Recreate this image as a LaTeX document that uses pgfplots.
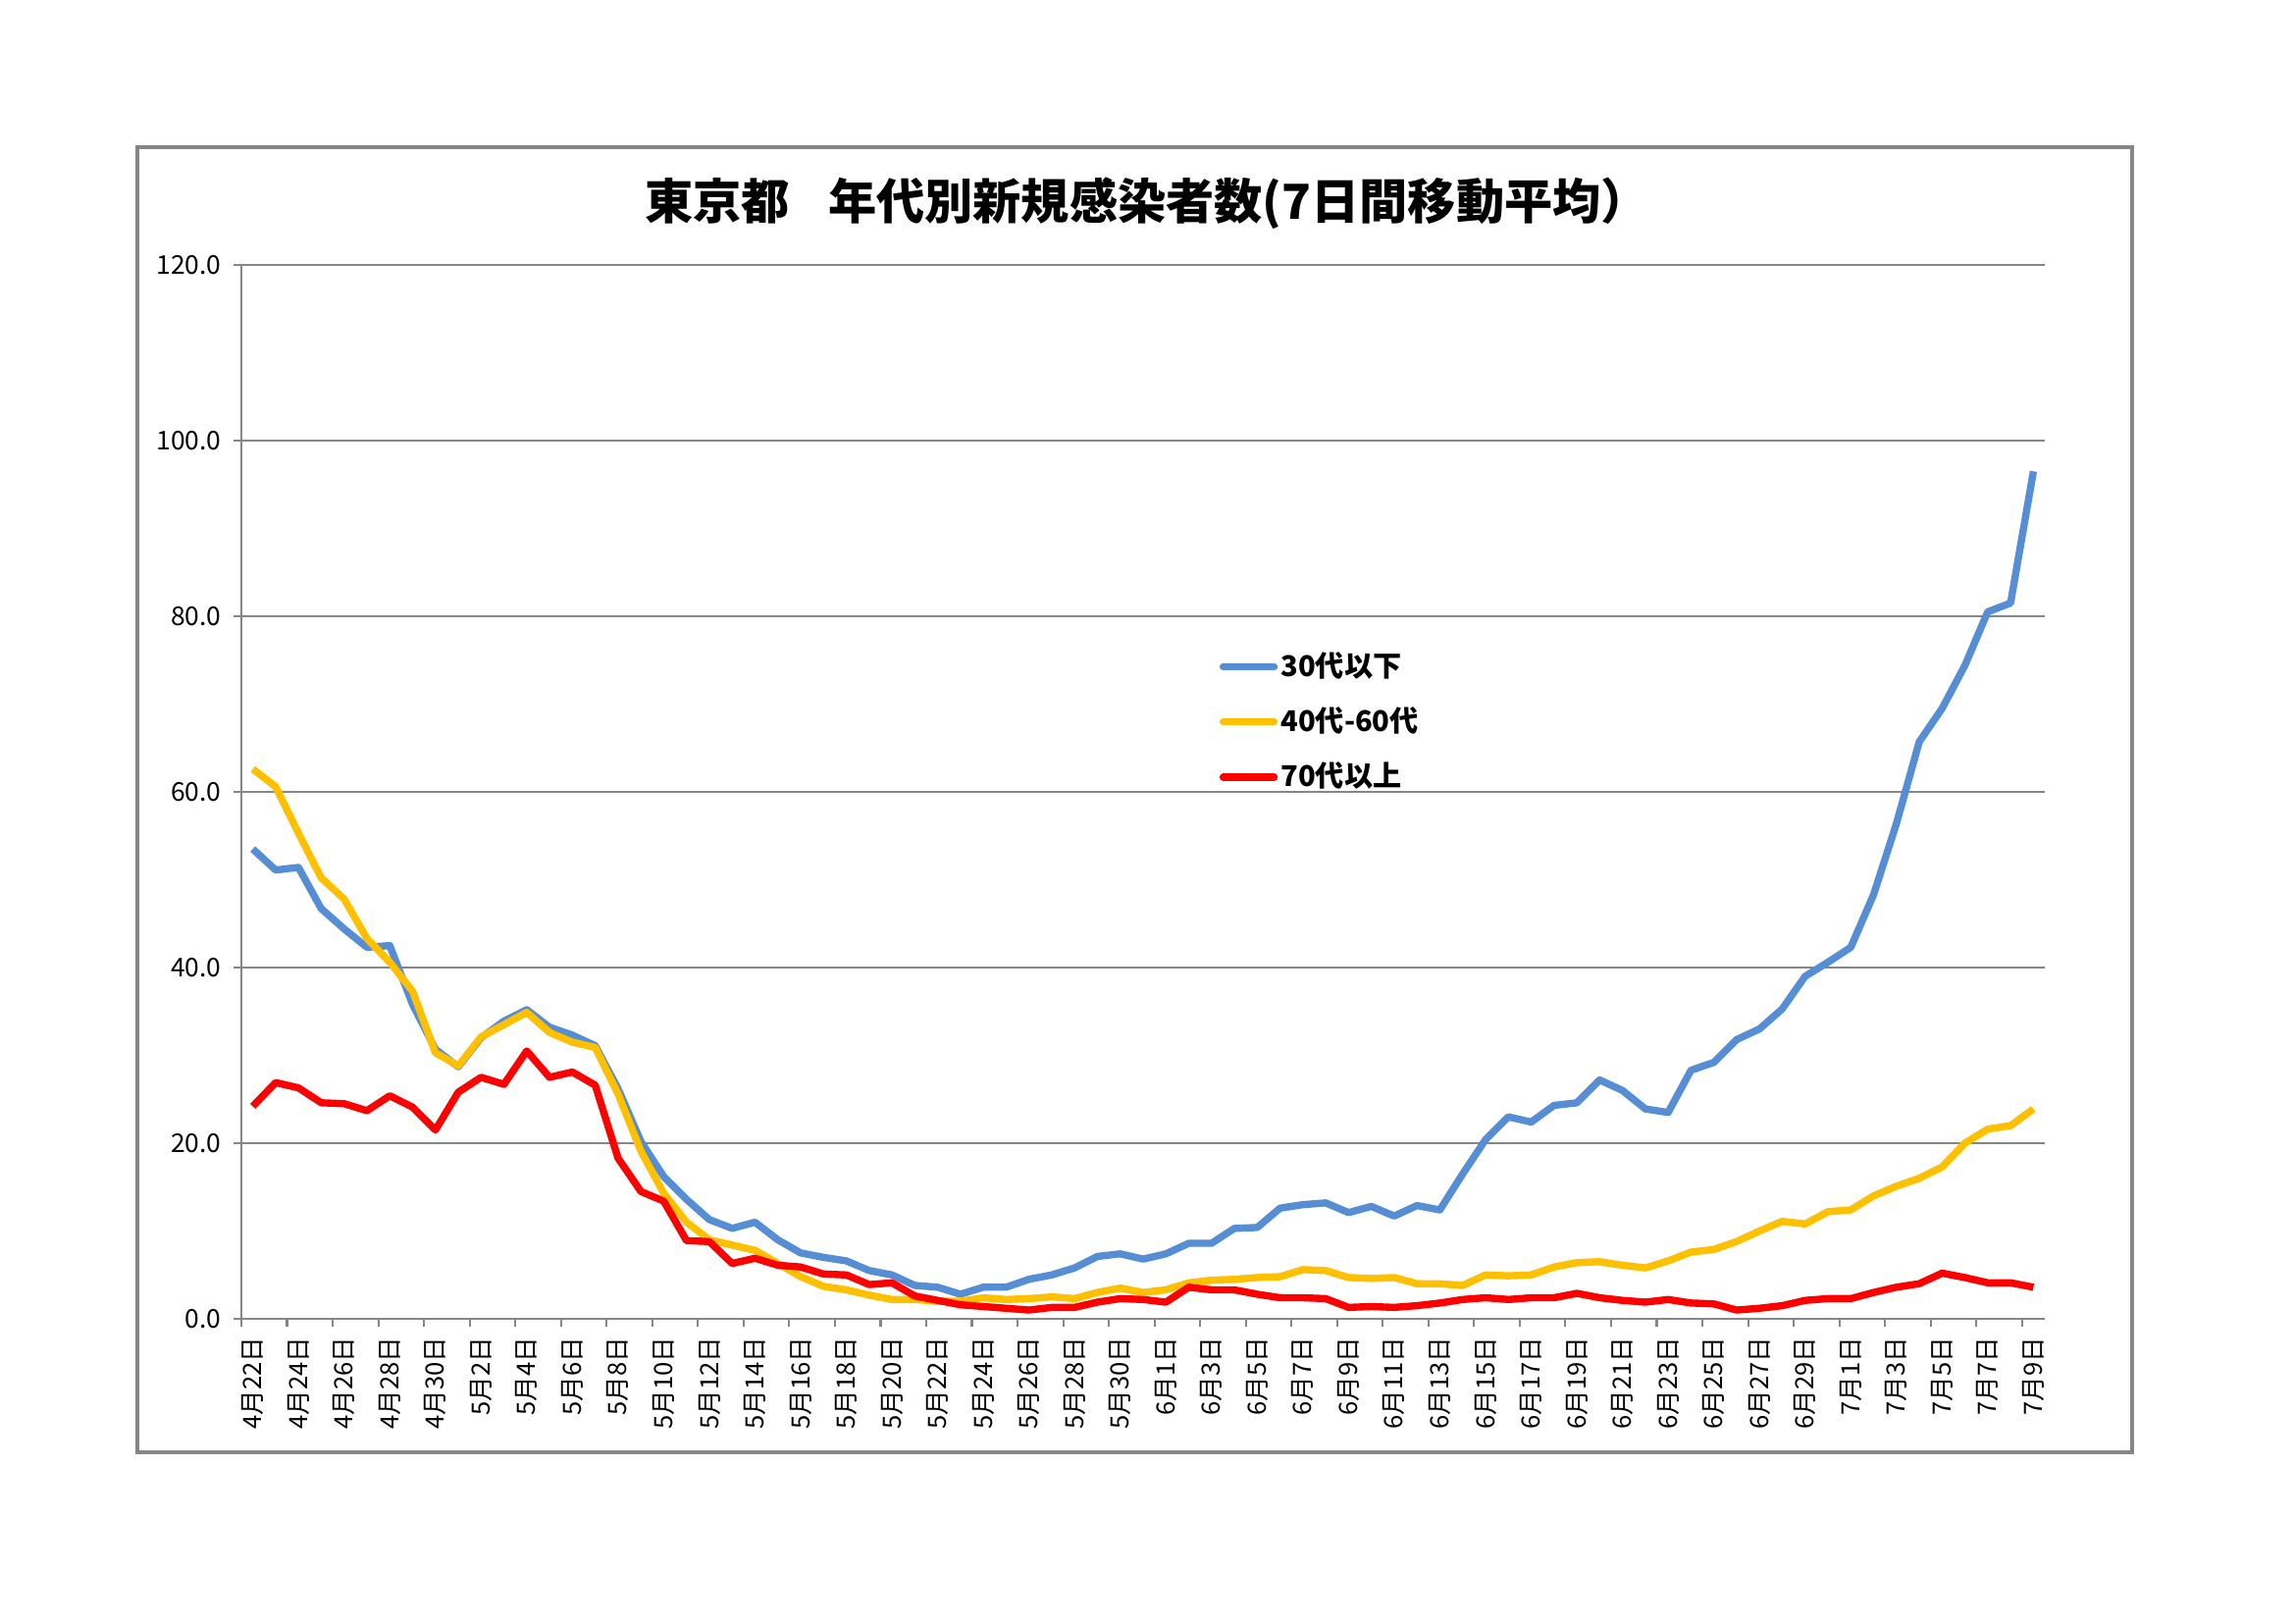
\documentclass[border=0pt]{standalone}
\usepackage{pgfplots}
\pgfplotsset{compat=1.18}
\usepackage{pgfplotstable}
\usepackage{fontspec}
\setmainfont{Noto Sans CJK JP}
\definecolor{sblue}{RGB}{85,142,213}
\definecolor{sorange}{RGB}{255,192,0}
\definecolor{sred}{RGB}{255,0,0}
\definecolor{agray}{RGB}{134,134,134}

\pgfplotstableread{
i a b c
0 53.5 62.6 24.2
1 51.1 60.6 26.9
2 51.4 55.3 26.3
3 46.7 50.2 24.6
4 44.4 47.8 24.5
5 42.3 43.3 23.7
6 42.5 40.6 25.4
7 35.8 37.3 24.1
8 30.7 30.3 21.5
9 28.7 28.8 25.8
10 32.0 32.1 27.5
11 33.9 33.5 26.7
12 35.2 34.9 30.5
13 33.2 32.6 27.5
14 32.3 31.5 28.1
15 31.1 30.9 26.6
16 26.2 25.6 18.3
17 20.2 19.1 14.5
18 16.2 14.3 13.4
19 13.6 11.0 8.9
20 11.3 9.0 8.8
21 10.3 8.4 6.3
22 11.0 7.8 6.9
23 9.0 6.3 6.1
24 7.5 4.8 5.9
25 7.0 3.7 5.1
26 6.6 3.3 5.0
27 5.5 2.7 3.9
28 5.0 2.2 4.1
29 3.8 2.2 2.6
30 3.6 2.0 2.1
31 2.8 2.0 1.6
32 3.6 2.4 1.4
33 3.6 2.2 1.2
34 4.5 2.3 1.0
35 5.0 2.5 1.3
36 5.8 2.3 1.3
37 7.1 3.0 1.9
38 7.4 3.5 2.3
39 6.8 3.0 2.2
40 7.4 3.3 1.9
41 8.6 4.1 3.6
42 8.6 4.4 3.3
43 10.3 4.5 3.3
44 10.4 4.7 2.8
45 12.6 4.8 2.4
46 13.0 5.6 2.4
47 13.2 5.5 2.3
48 12.1 4.7 1.3
49 12.8 4.6 1.4
50 11.7 4.7 1.3
51 12.9 4.0 1.5
52 12.4 4.0 1.8
53 16.5 3.8 2.2
54 20.4 5.0 2.4
55 23.0 4.9 2.2
56 22.4 5.0 2.4
57 24.3 5.9 2.4
58 24.6 6.4 2.9
59 27.2 6.5 2.4
60 26.0 6.1 2.1
61 23.9 5.8 1.9
62 23.5 6.6 2.2
63 28.3 7.6 1.8
64 29.2 7.9 1.7
65 31.8 8.8 1.0
66 33.0 10.0 1.2
67 35.3 11.1 1.5
68 39.0 10.8 2.1
69 40.6 12.2 2.3
70 42.3 12.4 2.3
71 48.3 14.0 3.0
72 56.4 15.1 3.6
73 65.7 16.0 4.0
74 69.5 17.3 5.2
75 74.4 20.0 4.7
76 80.5 21.6 4.1
77 81.5 22.0 4.1
78 96.5 23.9 3.6
}\datatable

\begin{document}
\begin{tikzpicture}
\path[use as bounding box, fill=white] (0mm,0mm) rectangle (233.9mm,165.4mm);
\draw[agray, line width=0.9pt] (14.0mm,17.4mm) rectangle (217.3mm,150.4mm);
\node[font=\bfseries\fontsize{14}{16}\selectfont, inner sep=0pt] at (116.9mm,144.7mm) {東京都\hspace{0.8em}年代別新規感染者数(7日間移動平均）};
\begin{axis}[
  at={(24.6mm,31.0mm)}, anchor=south west,
  scale only axis, width=183.8mm, height=107.4mm,
  xmin=-0.5, xmax=78.5, ymin=0, ymax=120,
  axis lines*=left,
  axis line style={agray, line width=0.6pt},
  ymajorgrids, grid style={agray, line width=0.6pt},
  ytick={0,20,...,120},
  tick align=outside,
  major tick length=0.8mm,
  tick style={agray, line width=0.6pt},
  yticklabel style={font=\fontsize{7.5}{9}\selectfont, /pgf/number format/.cd, fixed, fixed zerofill, precision=1, assume math mode=true},
  xtick={-0.5,1.5,...,77.5},
  xticklabels={},
  extra x ticks={0,2,...,78},
  extra x tick labels={4月22日,4月24日,4月26日,4月28日,4月30日,5月2日,5月4日,5月6日,5月8日,5月10日,5月12日,5月14日,5月16日,5月18日,5月20日,5月22日,5月24日,5月26日,5月28日,5月30日,6月1日,6月3日,6月5日,6月7日,6月9日,6月11日,6月13日,6月15日,6月17日,6月19日,6月21日,6月23日,6月25日,6月27日,6月29日,7月1日,7月3日,7月5日,7月7日,7月9日},
  extra x tick style={major tick length=0pt, xticklabel style={rotate=90, anchor=east, inner xsep=1.8mm, font=\fontsize{7.3}{8}\selectfont}},
  legend cell align=left,
  legend style={at={(rel axis cs:0.542,0.640)}, anchor=north west, draw=none, fill=none, font=\bfseries\fontsize{8.3}{10}\selectfont, row sep=1.2mm, inner sep=0pt, nodes={inner xsep=0.3mm}},
  legend image code/.code={\draw[#1, line cap=round] (0mm,0mm) -- (5.2mm,0mm);},
  every axis plot/.append style={line width=2.1pt, line join=round},
]
\addplot[sblue, mark=none] table[x=i, y=a] {\datatable};
\addlegendentry{30代以下}
\addplot[sorange, mark=none] table[x=i, y=b] {\datatable};
\addlegendentry{40代-60代}
\addplot[sred, mark=none] table[x=i, y=c] {\datatable};
\addlegendentry{70代以上}
\end{axis}
\end{tikzpicture}
\end{document}
